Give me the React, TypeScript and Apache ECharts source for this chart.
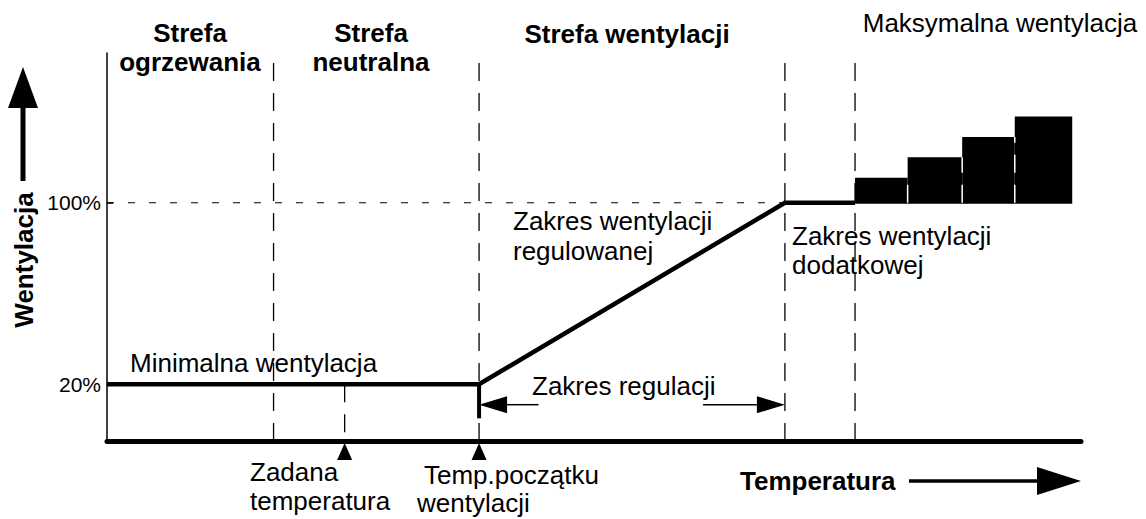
import React, { useEffect, useRef } from "react";
import * as echarts from "echarts";

// ---- data (abstract temperature units 0..100, ventilation %) ----
const X_MIN = 0;
const X_MAX = 100;
const Y_MIN = -5;
const Y_MAX = 166;
const yLabelValues = [20, 100];
const yTickValues = [100];
const zoneBoundaries = [17.1, 38.2, 69.6, 76.8];
const setpointTemp = 24.4;
const ventStartTemp = 38.2;
const ventFullTemp = 69.6;
const minVent = 20;
const maxVent = 100;
const ventCurveX = [0, 38.2, 69.6, 76.8];
const ventCurveY = [20, 20, 100, 100];
const stageEdges = [76.8, 82.2, 87.8, 93.2, 99.1];
const stageLevels = [111, 120, 129, 138];
const startMarkBottom = 5;
const regulationLevel = 11;
const regulationArrowTips = [38.2, 69.6];
const regulationArrowTails = [44.3, 61.2];
const axisMarkers = [setpointTemp, ventStartTemp];

const FONT = "Liberation Sans, Arial, Helvetica, sans-serif";

function txt(text: string, x: number, y: number, size: number, bold: boolean, align = "left", rotation = 0) {
  return {
    type: "text",
    x,
    y,
    rotation,
    silent: true,
    style: {
      text,
      fill: "#000",
      fontSize: size,
      fontWeight: bold ? "bold" : "normal",
      fontFamily: FONT,
      align,
      verticalAlign: "middle",
      textAlign: align,
      textVerticalAlign: "middle",
    },
  };
}

export default function App() {
  const ref = useRef<HTMLDivElement>(null);

  useEffect(() => {
    document.body.style.margin = "0";
    const chart = echarts.init(ref.current!, null, { renderer: "svg" });

    const dashedVertical = zoneBoundaries.map((b) => ({
      type: "line",
      data: [
        [b, Y_MIN],
        [b, Y_MAX],
      ],
      symbol: "none",
      silent: true,
      lineStyle: { color: "#000", width: 1.3, type: [18, 12] },
    }));

    const separators = stageEdges.slice(1, -1).map((e, i) => ({
      type: "line",
      data: [
        [e, maxVent],
        [e, stageLevels[i]],
      ],
      symbol: "none",
      silent: true,
      z: 3,
      lineStyle: { color: "#fff", width: 1.5, type: [18, 12] },
    }));

    const option: any = {
      animation: false,
      backgroundColor: "#fff",
      grid: { left: 107, right: 65, top: 53, bottom: 78 },
      xAxis: {
        type: "value",
        min: X_MIN,
        max: X_MAX,
        axisLine: { show: true, onZero: false, lineStyle: { color: "#000", width: 5 } },
        axisTick: { show: false },
        axisLabel: { show: false },
        splitLine: { show: false },
      },
      yAxis: {
        type: "value",
        min: Y_MIN,
        max: Y_MAX,
        axisLine: { show: true, onZero: false, lineStyle: { color: "#000", width: 1.5 } },
        axisTick: {
          show: true,
          inside: true,
          length: 6,
          customValues: yTickValues,
          lineStyle: { color: "#000", width: 1.5 },
        },
        axisLabel: {
          show: true,
          customValues: yLabelValues,
          formatter: "{value}%",
          fontSize: 21,
          color: "#000",
          fontFamily: FONT,
          margin: 6,
          padding: [6, 0, 0, 0],
        },
        splitLine: { show: false },
      },
      series: [
        ...dashedVertical,
        {
          type: "line",
          data: [
            [setpointTemp, minVent],
            [setpointTemp, Y_MIN],
          ],
          symbol: "none",
          silent: true,
          lineStyle: { color: "#000", width: 1.3, type: [18, 12] },
        },
        {
          type: "line",
          data: [
            [X_MIN, maxVent],
            [ventFullTemp, maxVent],
          ],
          symbol: "none",
          silent: true,
          lineStyle: { color: "#000", width: 1.2, type: [7, 14] },
        },
        {
          type: "custom",
          clip: false,
          silent: true,
          z: 2,
          data: stageLevels.map((h, i) => [stageEdges[i], stageEdges[i + 1], h]),
          renderItem: (params: any, api: any) => {
            const p0 = api.coord([api.value(0), maxVent]);
            const p1 = api.coord([api.value(1), api.value(2)]);
            return {
              type: "rect",
              shape: { x: p0[0], y: p1[1], width: p1[0] - p0[0], height: p0[1] - p1[1] + 1 },
              style: { fill: "#000" },
            };
          },
        },
        ...separators,
        {
          type: "line",
          data: ventCurveX.map((x, i) => [x, ventCurveY[i]]),
          symbol: "none",
          silent: true,
          z: 4,
          lineStyle: { color: "#000", width: 4.5, cap: "butt", join: "miter" },
        },
        {
          type: "line",
          data: [
            [ventStartTemp, minVent],
            [ventStartTemp, startMarkBottom],
          ],
          symbol: "none",
          silent: true,
          z: 4,
          lineStyle: { color: "#000", width: 4 },
        },
        {
          type: "custom",
          clip: false,
          silent: true,
          z: 5,
          data: regulationArrowTips.map((t, i) => [t, regulationArrowTails[i], regulationLevel]),
          renderItem: (params: any, api: any) => {
            const tip = api.coord([api.value(0), api.value(2)]);
            const tail = api.coord([api.value(1), api.value(2)]);
            const dir = tail[0] > tip[0] ? 1 : -1;
            const headLen = 28;
            const half = 8.5;
            const base = tip[0] + dir * headLen;
            return {
              type: "group",
              children: [
                {
                  type: "line",
                  shape: { x1: base, y1: tip[1], x2: tail[0], y2: tail[1] },
                  style: { stroke: "#000", lineWidth: 1.5 },
                },
                {
                  type: "polygon",
                  shape: {
                    points: [
                      [tip[0], tip[1]],
                      [base, tip[1] - half],
                      [base, tip[1] + half],
                    ],
                  },
                  style: { fill: "#000" },
                },
              ],
            };
          },
        },
        {
          type: "custom",
          clip: false,
          silent: true,
          z: 5,
          data: axisMarkers.map((x) => [x]),
          renderItem: (params: any, api: any) => {
            const p = api.coord([api.value(0), Y_MIN]);
            return {
              type: "polygon",
              shape: {
                points: [
                  [p[0], p[1] + 2],
                  [p[0] - 7.5, p[1] + 19],
                  [p[0] + 7.5, p[1] + 19],
                ],
              },
              style: { fill: "#000" },
            };
          },
        },
      ],
      graphic: [
        txt("Strefa", 190, 33, 26, true, "center"),
        txt("ogrzewania", 190, 62, 26, true, "center"),
        txt("Strefa", 371, 33, 26, true, "center"),
        txt("neutralna", 371, 62, 26, true, "center"),
        txt("Strefa wentylacji", 627, 34, 26, true, "center"),
        txt("Maksymalna wentylacja", 1000, 23, 26, false, "center"),
        txt("Zakres wentylacji", 513, 221, 26, false),
        txt("regulowanej", 513, 251, 26, false),
        txt("Zakres wentylacji", 792, 236, 26, false),
        txt("dodatkowej", 792, 265, 26, false),
        txt("Minimalna wentylacja", 130, 363, 26, false),
        txt("Zakres regulacji", 532, 386, 26, false),
        txt("Zadana", 250, 472, 26, false),
        txt("temperatura", 250, 501, 26, false),
        txt("Temp.początku", 424, 475, 26, false),
        txt("wentylacji", 417, 503, 26, false),
        txt("Temperatura", 740, 481, 26, true),
        txt("Wentylacja", 24, 260, 26, true, "center", Math.PI / 2),
        {
          type: "line",
          silent: true,
          shape: { x1: 23, y1: 106, x2: 23, y2: 181 },
          style: { stroke: "#000", lineWidth: 5 },
        },
        {
          type: "polygon",
          silent: true,
          shape: { points: [[23, 67], [8, 108], [38, 108]] },
          style: { fill: "#000" },
        },
        {
          type: "line",
          silent: true,
          shape: { x1: 909, y1: 481, x2: 1040, y2: 481 },
          style: { stroke: "#000", lineWidth: 3.5 },
        },
        {
          type: "polygon",
          silent: true,
          shape: { points: [[1081, 481], [1037, 467], [1037, 495]] },
          style: { fill: "#000" },
        },
      ],
    };

    chart.setOption(option);
    return () => chart.dispose();
  }, []);

  return <div ref={ref} style={{ width: 1146, height: 519 }} />;
}
